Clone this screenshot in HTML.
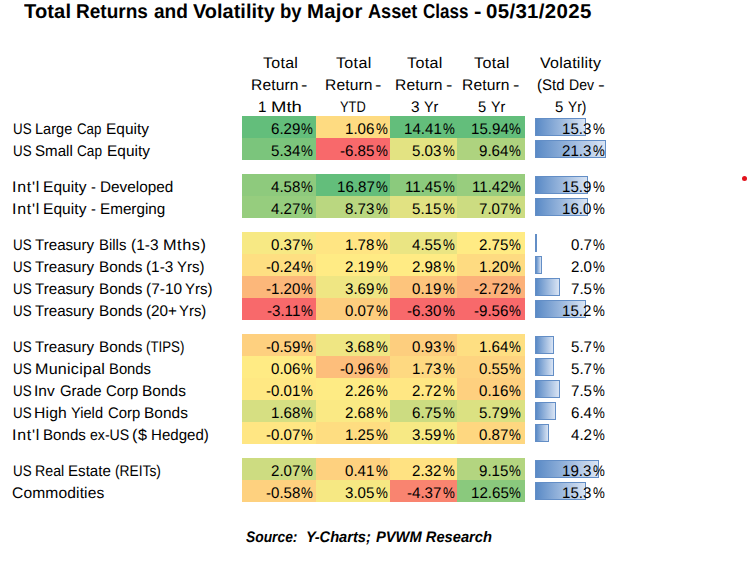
<!DOCTYPE html>
<html><head><meta charset="utf-8"><style>
html,body{margin:0;padding:0;background:#fff;width:747px;height:563px;overflow:hidden}
body{position:relative;font-family:"Liberation Sans",sans-serif;color:#000}
.t{position:absolute;white-space:pre;transform-origin:0 0;color:#000;text-rendering:geometricPrecision}
.c{position:absolute;height:22px}
.bar{position:absolute;height:18px;border:1px solid #638EC6;box-sizing:border-box;
background:linear-gradient(to right,#5A8AC6 0%,#D9E4F4 100%)}
.dot{position:absolute;left:741.5px;top:175.7px;width:5px;height:5px;border-radius:50%;background:#E2121C}
</style></head><body>
<div class="c" style="left:242px;top:116px;width:74px;background:#63BE7B"></div>
<div class="c" style="left:316px;top:116px;width:74px;background:#FEDB81"></div>
<div class="c" style="left:390px;top:116px;width:67px;background:#63BE7B"></div>
<div class="c" style="left:457px;top:116px;width:68px;background:#63BE7B"></div>
<div class="bar" style="left:535px;top:118px;width:51.00px"></div>
<div class="c" style="left:242px;top:138px;width:74px;background:#7BC57C"></div>
<div class="c" style="left:316px;top:138px;width:74px;background:#F8696B"></div>
<div class="c" style="left:390px;top:138px;width:67px;background:#E3E382"></div>
<div class="c" style="left:457px;top:138px;width:68px;background:#AED37F"></div>
<div class="bar" style="left:535px;top:140px;width:71.00px"></div>
<div class="c" style="left:242px;top:174px;width:74px;background:#8ECA7D"></div>
<div class="c" style="left:316px;top:174px;width:74px;background:#63BE7B"></div>
<div class="c" style="left:390px;top:174px;width:67px;background:#8BCA7D"></div>
<div class="c" style="left:457px;top:174px;width:68px;background:#98CD7E"></div>
<div class="bar" style="left:535px;top:176px;width:53.00px"></div>
<div class="c" style="left:242px;top:196px;width:74px;background:#96CD7E"></div>
<div class="c" style="left:316px;top:196px;width:74px;background:#BAD780"></div>
<div class="c" style="left:390px;top:196px;width:67px;background:#E1E282"></div>
<div class="c" style="left:457px;top:196px;width:68px;background:#CCDC81"></div>
<div class="bar" style="left:535px;top:198px;width:53.33px"></div>
<div class="c" style="left:242px;top:232px;width:74px;background:#F7E984"></div>
<div class="c" style="left:316px;top:232px;width:74px;background:#FFE583"></div>
<div class="c" style="left:390px;top:232px;width:67px;background:#EAE583"></div>
<div class="c" style="left:457px;top:232px;width:68px;background:#FFEB84"></div>
<div class="bar" style="left:535px;top:234px;width:2.33px"></div>
<div class="c" style="left:242px;top:254px;width:74px;background:#FEDF82"></div>
<div class="c" style="left:316px;top:254px;width:74px;background:#FFEB84"></div>
<div class="c" style="left:390px;top:254px;width:67px;background:#FFEB84"></div>
<div class="c" style="left:457px;top:254px;width:68px;background:#FEDB81"></div>
<div class="bar" style="left:535px;top:256px;width:6.67px"></div>
<div class="c" style="left:242px;top:276px;width:74px;background:#FCB77A"></div>
<div class="c" style="left:316px;top:276px;width:74px;background:#EFE683"></div>
<div class="c" style="left:390px;top:276px;width:67px;background:#FDC47C"></div>
<div class="c" style="left:457px;top:276px;width:68px;background:#FCB179"></div>
<div class="bar" style="left:535px;top:278px;width:25.00px"></div>
<div class="c" style="left:242px;top:298px;width:74px;background:#F8696B"></div>
<div class="c" style="left:316px;top:298px;width:74px;background:#FDCD7E"></div>
<div class="c" style="left:390px;top:298px;width:67px;background:#F8696B"></div>
<div class="c" style="left:457px;top:298px;width:68px;background:#F8696B"></div>
<div class="bar" style="left:535px;top:300px;width:50.67px"></div>
<div class="c" style="left:242px;top:334px;width:74px;background:#FED07F"></div>
<div class="c" style="left:316px;top:334px;width:74px;background:#EFE683"></div>
<div class="c" style="left:390px;top:334px;width:67px;background:#FDCE7E"></div>
<div class="c" style="left:457px;top:334px;width:68px;background:#FEDF82"></div>
<div class="bar" style="left:535px;top:336px;width:19.00px"></div>
<div class="c" style="left:242px;top:356px;width:74px;background:#FFEB84"></div>
<div class="c" style="left:316px;top:356px;width:74px;background:#FDBE7B"></div>
<div class="c" style="left:390px;top:356px;width:67px;background:#FED981"></div>
<div class="c" style="left:457px;top:356px;width:68px;background:#FED480"></div>
<div class="bar" style="left:535px;top:358px;width:19.00px"></div>
<div class="c" style="left:242px;top:378px;width:74px;background:#FFE883"></div>
<div class="c" style="left:316px;top:378px;width:74px;background:#FEEB84"></div>
<div class="c" style="left:390px;top:378px;width:67px;background:#FFE783"></div>
<div class="c" style="left:457px;top:378px;width:68px;background:#FED07F"></div>
<div class="bar" style="left:535px;top:380px;width:25.00px"></div>
<div class="c" style="left:242px;top:400px;width:74px;background:#D6DF82"></div>
<div class="c" style="left:316px;top:400px;width:74px;background:#FAE984"></div>
<div class="c" style="left:390px;top:400px;width:67px;background:#CCDC81"></div>
<div class="c" style="left:457px;top:400px;width:68px;background:#DBE182"></div>
<div class="bar" style="left:535px;top:402px;width:21.33px"></div>
<div class="c" style="left:242px;top:422px;width:74px;background:#FFE683"></div>
<div class="c" style="left:316px;top:422px;width:74px;background:#FEDD81"></div>
<div class="c" style="left:390px;top:422px;width:67px;background:#F7E984"></div>
<div class="c" style="left:457px;top:422px;width:68px;background:#FED780"></div>
<div class="bar" style="left:535px;top:424px;width:14.00px"></div>
<div class="c" style="left:242px;top:458px;width:74px;background:#CDDC81"></div>
<div class="c" style="left:316px;top:458px;width:74px;background:#FED17F"></div>
<div class="c" style="left:390px;top:458px;width:67px;background:#FFE282"></div>
<div class="c" style="left:457px;top:458px;width:68px;background:#B3D580"></div>
<div class="bar" style="left:535px;top:460px;width:64.33px"></div>
<div class="c" style="left:242px;top:480px;width:74px;background:#FED17F"></div>
<div class="c" style="left:316px;top:480px;width:74px;background:#F6E883"></div>
<div class="c" style="left:390px;top:480px;width:67px;background:#F98470"></div>
<div class="c" style="left:457px;top:480px;width:68px;background:#8AC97D"></div>
<div class="bar" style="left:535px;top:482px;width:51.00px"></div>
<div class="t" style="left:12.60px;top:122px;font-size:15.400px;line-height:15.400px;transform:scaleX(0.8675);">US</div>
<div class="t" style="left:34.63px;top:122px;font-size:15.400px;line-height:15.400px;transform:scaleX(0.9460);">Large</div>
<div class="t" style="left:76.84px;top:122px;font-size:15.400px;line-height:15.400px;transform:scaleX(0.8633);">Cap</div>
<div class="t" style="left:105.86px;top:122px;font-size:15.400px;line-height:15.400px;transform:scaleX(1.0026);letter-spacing:0.022px;">Equity</div>
<div class="t" style="left:301.43px;top:122px;font-size:15.400px;line-height:15.400px;transform:scaleX(0.8632);">%</div>
<div class="t" style="left:271.00px;top:122px;font-size:15.400px;line-height:15.400px;transform:scaleX(0.9810);">6.29</div>
<div class="t" style="left:375.53px;top:122px;font-size:15.400px;line-height:15.400px;transform:scaleX(0.8632);">%</div>
<div class="t" style="left:345.10px;top:122px;font-size:15.400px;line-height:15.400px;transform:scaleX(0.9810);">1.06</div>
<div class="t" style="left:442.53px;top:122px;font-size:15.400px;line-height:15.400px;transform:scaleX(0.8632);">%</div>
<div class="t" style="left:403.69px;top:122px;font-size:15.400px;line-height:15.400px;transform:scaleX(0.9810);">14.41</div>
<div class="t" style="left:509.43px;top:122px;font-size:15.400px;line-height:15.400px;transform:scaleX(0.8632);">%</div>
<div class="t" style="left:470.59px;top:122px;font-size:15.400px;line-height:15.400px;transform:scaleX(0.9810);">15.94</div>
<div class="t" style="left:592.53px;top:122px;font-size:15.400px;line-height:15.400px;transform:scaleX(0.8632);">%</div>
<div class="t" style="left:562.10px;top:122px;font-size:15.400px;line-height:15.400px;transform:scaleX(0.9810);">15.3</div>
<div class="t" style="left:12.60px;top:144px;font-size:15.400px;line-height:15.400px;transform:scaleX(0.8675);">US</div>
<div class="t" style="left:35.42px;top:144px;font-size:15.400px;line-height:15.400px;transform:scaleX(0.9808);">Small</div>
<div class="t" style="left:77.32px;top:144px;font-size:15.400px;line-height:15.400px;transform:scaleX(0.8856);">Cap</div>
<div class="t" style="left:106.97px;top:144px;font-size:15.400px;line-height:15.400px;transform:scaleX(1.0014);letter-spacing:0.012px;">Equity</div>
<div class="t" style="left:301.43px;top:144px;font-size:15.400px;line-height:15.400px;transform:scaleX(0.8632);">%</div>
<div class="t" style="left:271.00px;top:144px;font-size:15.400px;line-height:15.400px;transform:scaleX(0.9810);">5.34</div>
<div class="t" style="left:375.53px;top:144px;font-size:15.400px;line-height:15.400px;transform:scaleX(0.8632);">%</div>
<div class="t" style="left:340.06px;top:144px;font-size:15.400px;line-height:15.400px;transform:scaleX(0.9810);">-6.85</div>
<div class="t" style="left:442.53px;top:144px;font-size:15.400px;line-height:15.400px;transform:scaleX(0.8632);">%</div>
<div class="t" style="left:412.10px;top:144px;font-size:15.400px;line-height:15.400px;transform:scaleX(0.9810);">5.03</div>
<div class="t" style="left:509.43px;top:144px;font-size:15.400px;line-height:15.400px;transform:scaleX(0.8632);">%</div>
<div class="t" style="left:479.00px;top:144px;font-size:15.400px;line-height:15.400px;transform:scaleX(0.9810);">9.64</div>
<div class="t" style="left:592.53px;top:144px;font-size:15.400px;line-height:15.400px;transform:scaleX(0.8632);">%</div>
<div class="t" style="left:562.10px;top:144px;font-size:15.400px;line-height:15.400px;transform:scaleX(0.9810);">21.3</div>
<div class="t" style="left:12.07px;top:180px;font-size:15.400px;line-height:15.400px;transform:scaleX(1.0351);letter-spacing:0.740px;">Int'l</div>
<div class="t" style="left:42.86px;top:180px;font-size:15.400px;line-height:15.400px;transform:scaleX(1.0075);letter-spacing:0.062px;">Equity</div>
<div class="t" style="left:91.14px;top:180px;font-size:15.400px;line-height:15.400px;transform:scaleX(0.9541);">-</div>
<div class="t" style="left:99.77px;top:180px;font-size:15.400px;line-height:15.400px;transform:scaleX(0.9961);">Developed</div>
<div class="t" style="left:301.43px;top:180px;font-size:15.400px;line-height:15.400px;transform:scaleX(0.8632);">%</div>
<div class="t" style="left:271.00px;top:180px;font-size:15.400px;line-height:15.400px;transform:scaleX(0.9810);">4.58</div>
<div class="t" style="left:375.53px;top:180px;font-size:15.400px;line-height:15.400px;transform:scaleX(0.8632);">%</div>
<div class="t" style="left:336.69px;top:180px;font-size:15.400px;line-height:15.400px;transform:scaleX(0.9810);">16.87</div>
<div class="t" style="left:442.53px;top:180px;font-size:15.400px;line-height:15.400px;transform:scaleX(0.8632);">%</div>
<div class="t" style="left:404.81px;top:180px;font-size:15.400px;line-height:15.400px;transform:scaleX(0.9810);">11.45</div>
<div class="t" style="left:509.43px;top:180px;font-size:15.400px;line-height:15.400px;transform:scaleX(0.8632);">%</div>
<div class="t" style="left:471.71px;top:180px;font-size:15.400px;line-height:15.400px;transform:scaleX(0.9810);">11.42</div>
<div class="t" style="left:592.53px;top:180px;font-size:15.400px;line-height:15.400px;transform:scaleX(0.8632);">%</div>
<div class="t" style="left:562.10px;top:180px;font-size:15.400px;line-height:15.400px;transform:scaleX(0.9810);">15.9</div>
<div class="t" style="left:12.07px;top:202px;font-size:15.400px;line-height:15.400px;transform:scaleX(1.0351);letter-spacing:0.740px;">Int'l</div>
<div class="t" style="left:42.86px;top:202px;font-size:15.400px;line-height:15.400px;transform:scaleX(1.0075);letter-spacing:0.062px;">Equity</div>
<div class="t" style="left:91.14px;top:202px;font-size:15.400px;line-height:15.400px;transform:scaleX(0.9541);">-</div>
<div class="t" style="left:99.78px;top:202px;font-size:15.400px;line-height:15.400px;transform:scaleX(0.9909);">Emerging</div>
<div class="t" style="left:301.43px;top:202px;font-size:15.400px;line-height:15.400px;transform:scaleX(0.8632);">%</div>
<div class="t" style="left:271.00px;top:202px;font-size:15.400px;line-height:15.400px;transform:scaleX(0.9810);">4.27</div>
<div class="t" style="left:375.53px;top:202px;font-size:15.400px;line-height:15.400px;transform:scaleX(0.8632);">%</div>
<div class="t" style="left:345.10px;top:202px;font-size:15.400px;line-height:15.400px;transform:scaleX(0.9810);">8.73</div>
<div class="t" style="left:442.53px;top:202px;font-size:15.400px;line-height:15.400px;transform:scaleX(0.8632);">%</div>
<div class="t" style="left:412.10px;top:202px;font-size:15.400px;line-height:15.400px;transform:scaleX(0.9810);">5.15</div>
<div class="t" style="left:509.43px;top:202px;font-size:15.400px;line-height:15.400px;transform:scaleX(0.8632);">%</div>
<div class="t" style="left:479.00px;top:202px;font-size:15.400px;line-height:15.400px;transform:scaleX(0.9810);">7.07</div>
<div class="t" style="left:592.53px;top:202px;font-size:15.400px;line-height:15.400px;transform:scaleX(0.8632);">%</div>
<div class="t" style="left:562.10px;top:202px;font-size:15.400px;line-height:15.400px;transform:scaleX(0.9810);">16.0</div>
<div class="t" style="left:12.60px;top:238px;font-size:15.400px;line-height:15.400px;transform:scaleX(0.8675);">US</div>
<div class="t" style="left:34.70px;top:238px;font-size:15.400px;line-height:15.400px;transform:scaleX(0.9832);">Treasury</div>
<div class="t" style="left:98.90px;top:238px;font-size:15.400px;line-height:15.400px;transform:scaleX(0.9703);">Bills</div>
<div class="t" style="left:131.07px;top:238px;font-size:15.400px;line-height:15.400px;transform:scaleX(1.0040);letter-spacing:0.034px;">(1-3</div>
<div class="t" style="left:162.50px;top:238px;font-size:15.400px;line-height:15.400px;transform:scaleX(1.0570);letter-spacing:0.517px;">Mths)</div>
<div class="t" style="left:301.43px;top:238px;font-size:15.400px;line-height:15.400px;transform:scaleX(0.8632);">%</div>
<div class="t" style="left:271.00px;top:238px;font-size:15.400px;line-height:15.400px;transform:scaleX(0.9810);">0.37</div>
<div class="t" style="left:375.53px;top:238px;font-size:15.400px;line-height:15.400px;transform:scaleX(0.8632);">%</div>
<div class="t" style="left:345.10px;top:238px;font-size:15.400px;line-height:15.400px;transform:scaleX(0.9810);">1.78</div>
<div class="t" style="left:442.53px;top:238px;font-size:15.400px;line-height:15.400px;transform:scaleX(0.8632);">%</div>
<div class="t" style="left:412.10px;top:238px;font-size:15.400px;line-height:15.400px;transform:scaleX(0.9810);">4.55</div>
<div class="t" style="left:509.43px;top:238px;font-size:15.400px;line-height:15.400px;transform:scaleX(0.8632);">%</div>
<div class="t" style="left:479.00px;top:238px;font-size:15.400px;line-height:15.400px;transform:scaleX(0.9810);">2.75</div>
<div class="t" style="left:592.53px;top:238px;font-size:15.400px;line-height:15.400px;transform:scaleX(0.8632);">%</div>
<div class="t" style="left:570.50px;top:238px;font-size:15.400px;line-height:15.400px;transform:scaleX(0.9810);">0.7</div>
<div class="t" style="left:12.60px;top:260px;font-size:15.400px;line-height:15.400px;transform:scaleX(0.8675);">US</div>
<div class="t" style="left:34.70px;top:260px;font-size:15.400px;line-height:15.400px;transform:scaleX(0.9832);">Treasury</div>
<div class="t" style="left:98.78px;top:260px;font-size:15.400px;line-height:15.400px;transform:scaleX(0.9931);">Bonds</div>
<div class="t" style="left:145.78px;top:260px;font-size:15.400px;line-height:15.400px;transform:scaleX(0.9963);">(1-3</div>
<div class="t" style="left:176.53px;top:260px;font-size:15.400px;line-height:15.400px;transform:scaleX(0.9712);">Yrs)</div>
<div class="t" style="left:301.43px;top:260px;font-size:15.400px;line-height:15.400px;transform:scaleX(0.8632);">%</div>
<div class="t" style="left:265.96px;top:260px;font-size:15.400px;line-height:15.400px;transform:scaleX(0.9810);">-0.24</div>
<div class="t" style="left:375.53px;top:260px;font-size:15.400px;line-height:15.400px;transform:scaleX(0.8632);">%</div>
<div class="t" style="left:345.10px;top:260px;font-size:15.400px;line-height:15.400px;transform:scaleX(0.9810);">2.19</div>
<div class="t" style="left:442.53px;top:260px;font-size:15.400px;line-height:15.400px;transform:scaleX(0.8632);">%</div>
<div class="t" style="left:412.10px;top:260px;font-size:15.400px;line-height:15.400px;transform:scaleX(0.9810);">2.98</div>
<div class="t" style="left:509.43px;top:260px;font-size:15.400px;line-height:15.400px;transform:scaleX(0.8632);">%</div>
<div class="t" style="left:479.00px;top:260px;font-size:15.400px;line-height:15.400px;transform:scaleX(0.9810);">1.20</div>
<div class="t" style="left:592.53px;top:260px;font-size:15.400px;line-height:15.400px;transform:scaleX(0.8632);">%</div>
<div class="t" style="left:570.50px;top:260px;font-size:15.400px;line-height:15.400px;transform:scaleX(0.9810);">2.0</div>
<div class="t" style="left:12.60px;top:282px;font-size:15.400px;line-height:15.400px;transform:scaleX(0.8675);">US</div>
<div class="t" style="left:34.70px;top:282px;font-size:15.400px;line-height:15.400px;transform:scaleX(0.9832);">Treasury</div>
<div class="t" style="left:98.78px;top:282px;font-size:15.400px;line-height:15.400px;transform:scaleX(0.9931);">Bonds</div>
<div class="t" style="left:145.77px;top:282px;font-size:15.400px;line-height:15.400px;transform:scaleX(1.0030);letter-spacing:0.026px;">(7-10</div>
<div class="t" style="left:185.42px;top:282px;font-size:15.400px;line-height:15.400px;transform:scaleX(0.9750);">Yrs)</div>
<div class="t" style="left:301.43px;top:282px;font-size:15.400px;line-height:15.400px;transform:scaleX(0.8632);">%</div>
<div class="t" style="left:265.96px;top:282px;font-size:15.400px;line-height:15.400px;transform:scaleX(0.9810);">-1.20</div>
<div class="t" style="left:375.53px;top:282px;font-size:15.400px;line-height:15.400px;transform:scaleX(0.8632);">%</div>
<div class="t" style="left:345.10px;top:282px;font-size:15.400px;line-height:15.400px;transform:scaleX(0.9810);">3.69</div>
<div class="t" style="left:442.53px;top:282px;font-size:15.400px;line-height:15.400px;transform:scaleX(0.8632);">%</div>
<div class="t" style="left:412.10px;top:282px;font-size:15.400px;line-height:15.400px;transform:scaleX(0.9810);">0.19</div>
<div class="t" style="left:509.43px;top:282px;font-size:15.400px;line-height:15.400px;transform:scaleX(0.8632);">%</div>
<div class="t" style="left:473.96px;top:282px;font-size:15.400px;line-height:15.400px;transform:scaleX(0.9810);">-2.72</div>
<div class="t" style="left:592.53px;top:282px;font-size:15.400px;line-height:15.400px;transform:scaleX(0.8632);">%</div>
<div class="t" style="left:570.50px;top:282px;font-size:15.400px;line-height:15.400px;transform:scaleX(0.9810);">7.5</div>
<div class="t" style="left:12.60px;top:304px;font-size:15.400px;line-height:15.400px;transform:scaleX(0.8675);">US</div>
<div class="t" style="left:34.70px;top:304px;font-size:15.400px;line-height:15.400px;transform:scaleX(0.9832);">Treasury</div>
<div class="t" style="left:98.78px;top:304px;font-size:15.400px;line-height:15.400px;transform:scaleX(0.9931);">Bonds</div>
<div class="t" style="left:145.78px;top:304px;font-size:15.400px;line-height:15.400px;transform:scaleX(0.9943);">(20+</div>
<div class="t" style="left:179.43px;top:304px;font-size:15.400px;line-height:15.400px;transform:scaleX(0.9675);">Yrs)</div>
<div class="t" style="left:301.43px;top:304px;font-size:15.400px;line-height:15.400px;transform:scaleX(0.8632);">%</div>
<div class="t" style="left:267.09px;top:304px;font-size:15.400px;line-height:15.400px;transform:scaleX(0.9810);">-3.11</div>
<div class="t" style="left:375.53px;top:304px;font-size:15.400px;line-height:15.400px;transform:scaleX(0.8632);">%</div>
<div class="t" style="left:345.10px;top:304px;font-size:15.400px;line-height:15.400px;transform:scaleX(0.9810);">0.07</div>
<div class="t" style="left:442.53px;top:304px;font-size:15.400px;line-height:15.400px;transform:scaleX(0.8632);">%</div>
<div class="t" style="left:407.06px;top:304px;font-size:15.400px;line-height:15.400px;transform:scaleX(0.9810);">-6.30</div>
<div class="t" style="left:509.43px;top:304px;font-size:15.400px;line-height:15.400px;transform:scaleX(0.8632);">%</div>
<div class="t" style="left:473.96px;top:304px;font-size:15.400px;line-height:15.400px;transform:scaleX(0.9810);">-9.56</div>
<div class="t" style="left:592.53px;top:304px;font-size:15.400px;line-height:15.400px;transform:scaleX(0.8632);">%</div>
<div class="t" style="left:562.10px;top:304px;font-size:15.400px;line-height:15.400px;transform:scaleX(0.9810);">15.2</div>
<div class="t" style="left:12.60px;top:340px;font-size:15.400px;line-height:15.400px;transform:scaleX(0.8675);">US</div>
<div class="t" style="left:34.70px;top:340px;font-size:15.400px;line-height:15.400px;transform:scaleX(0.9832);">Treasury</div>
<div class="t" style="left:98.78px;top:340px;font-size:15.400px;line-height:15.400px;transform:scaleX(0.9931);">Bonds</div>
<div class="t" style="left:146.10px;top:340px;font-size:15.400px;line-height:15.400px;transform:scaleX(0.8642);">(TIPS)</div>
<div class="t" style="left:301.43px;top:340px;font-size:15.400px;line-height:15.400px;transform:scaleX(0.8632);">%</div>
<div class="t" style="left:265.96px;top:340px;font-size:15.400px;line-height:15.400px;transform:scaleX(0.9810);">-0.59</div>
<div class="t" style="left:375.53px;top:340px;font-size:15.400px;line-height:15.400px;transform:scaleX(0.8632);">%</div>
<div class="t" style="left:345.10px;top:340px;font-size:15.400px;line-height:15.400px;transform:scaleX(0.9810);">3.68</div>
<div class="t" style="left:442.53px;top:340px;font-size:15.400px;line-height:15.400px;transform:scaleX(0.8632);">%</div>
<div class="t" style="left:412.10px;top:340px;font-size:15.400px;line-height:15.400px;transform:scaleX(0.9810);">0.93</div>
<div class="t" style="left:509.43px;top:340px;font-size:15.400px;line-height:15.400px;transform:scaleX(0.8632);">%</div>
<div class="t" style="left:479.00px;top:340px;font-size:15.400px;line-height:15.400px;transform:scaleX(0.9810);">1.64</div>
<div class="t" style="left:592.53px;top:340px;font-size:15.400px;line-height:15.400px;transform:scaleX(0.8632);">%</div>
<div class="t" style="left:570.50px;top:340px;font-size:15.400px;line-height:15.400px;transform:scaleX(0.9810);">5.7</div>
<div class="t" style="left:12.60px;top:362px;font-size:15.400px;line-height:15.400px;transform:scaleX(0.8675);">US</div>
<div class="t" style="left:34.81px;top:362px;font-size:15.400px;line-height:15.400px;transform:scaleX(1.0454);letter-spacing:0.237px;">Municipal</div>
<div class="t" style="left:108.71px;top:362px;font-size:15.400px;line-height:15.400px;transform:scaleX(0.9621);">Bonds</div>
<div class="t" style="left:301.43px;top:362px;font-size:15.400px;line-height:15.400px;transform:scaleX(0.8632);">%</div>
<div class="t" style="left:271.00px;top:362px;font-size:15.400px;line-height:15.400px;transform:scaleX(0.9810);">0.06</div>
<div class="t" style="left:375.53px;top:362px;font-size:15.400px;line-height:15.400px;transform:scaleX(0.8632);">%</div>
<div class="t" style="left:340.06px;top:362px;font-size:15.400px;line-height:15.400px;transform:scaleX(0.9810);">-0.96</div>
<div class="t" style="left:442.53px;top:362px;font-size:15.400px;line-height:15.400px;transform:scaleX(0.8632);">%</div>
<div class="t" style="left:412.10px;top:362px;font-size:15.400px;line-height:15.400px;transform:scaleX(0.9810);">1.73</div>
<div class="t" style="left:509.43px;top:362px;font-size:15.400px;line-height:15.400px;transform:scaleX(0.8632);">%</div>
<div class="t" style="left:479.00px;top:362px;font-size:15.400px;line-height:15.400px;transform:scaleX(0.9810);">0.55</div>
<div class="t" style="left:592.53px;top:362px;font-size:15.400px;line-height:15.400px;transform:scaleX(0.8632);">%</div>
<div class="t" style="left:570.50px;top:362px;font-size:15.400px;line-height:15.400px;transform:scaleX(0.9810);">5.7</div>
<div class="t" style="left:12.60px;top:384px;font-size:15.400px;line-height:15.400px;transform:scaleX(0.8675);">US</div>
<div class="t" style="left:34.21px;top:384px;font-size:15.400px;line-height:15.400px;transform:scaleX(1.0053);letter-spacing:0.051px;">Inv</div>
<div class="t" style="left:60.05px;top:384px;font-size:15.400px;line-height:15.400px;transform:scaleX(0.9698);">Grade</div>
<div class="t" style="left:105.75px;top:384px;font-size:15.400px;line-height:15.400px;transform:scaleX(0.9701);">Corp</div>
<div class="t" style="left:141.86px;top:384px;font-size:15.400px;line-height:15.400px;transform:scaleX(1.0025);letter-spacing:0.027px;">Bonds</div>
<div class="t" style="left:301.43px;top:384px;font-size:15.400px;line-height:15.400px;transform:scaleX(0.8632);">%</div>
<div class="t" style="left:265.96px;top:384px;font-size:15.400px;line-height:15.400px;transform:scaleX(0.9810);">-0.01</div>
<div class="t" style="left:375.53px;top:384px;font-size:15.400px;line-height:15.400px;transform:scaleX(0.8632);">%</div>
<div class="t" style="left:345.10px;top:384px;font-size:15.400px;line-height:15.400px;transform:scaleX(0.9810);">2.26</div>
<div class="t" style="left:442.53px;top:384px;font-size:15.400px;line-height:15.400px;transform:scaleX(0.8632);">%</div>
<div class="t" style="left:412.10px;top:384px;font-size:15.400px;line-height:15.400px;transform:scaleX(0.9810);">2.72</div>
<div class="t" style="left:509.43px;top:384px;font-size:15.400px;line-height:15.400px;transform:scaleX(0.8632);">%</div>
<div class="t" style="left:479.00px;top:384px;font-size:15.400px;line-height:15.400px;transform:scaleX(0.9810);">0.16</div>
<div class="t" style="left:592.53px;top:384px;font-size:15.400px;line-height:15.400px;transform:scaleX(0.8632);">%</div>
<div class="t" style="left:570.50px;top:384px;font-size:15.400px;line-height:15.400px;transform:scaleX(0.9810);">7.5</div>
<div class="t" style="left:12.60px;top:406px;font-size:15.400px;line-height:15.400px;transform:scaleX(0.8675);">US</div>
<div class="t" style="left:34.35px;top:406px;font-size:15.400px;line-height:15.400px;transform:scaleX(1.0185);letter-spacing:0.181px;">High</div>
<div class="t" style="left:70.83px;top:406px;font-size:15.400px;line-height:15.400px;transform:scaleX(0.9516);">Yield</div>
<div class="t" style="left:107.66px;top:406px;font-size:15.400px;line-height:15.400px;transform:scaleX(0.9670);">Corp</div>
<div class="t" style="left:143.76px;top:406px;font-size:15.400px;line-height:15.400px;transform:scaleX(1.0025);letter-spacing:0.027px;">Bonds</div>
<div class="t" style="left:301.43px;top:406px;font-size:15.400px;line-height:15.400px;transform:scaleX(0.8632);">%</div>
<div class="t" style="left:271.00px;top:406px;font-size:15.400px;line-height:15.400px;transform:scaleX(0.9810);">1.68</div>
<div class="t" style="left:375.53px;top:406px;font-size:15.400px;line-height:15.400px;transform:scaleX(0.8632);">%</div>
<div class="t" style="left:345.10px;top:406px;font-size:15.400px;line-height:15.400px;transform:scaleX(0.9810);">2.68</div>
<div class="t" style="left:442.53px;top:406px;font-size:15.400px;line-height:15.400px;transform:scaleX(0.8632);">%</div>
<div class="t" style="left:412.10px;top:406px;font-size:15.400px;line-height:15.400px;transform:scaleX(0.9810);">6.75</div>
<div class="t" style="left:509.43px;top:406px;font-size:15.400px;line-height:15.400px;transform:scaleX(0.8632);">%</div>
<div class="t" style="left:479.00px;top:406px;font-size:15.400px;line-height:15.400px;transform:scaleX(0.9810);">5.79</div>
<div class="t" style="left:592.53px;top:406px;font-size:15.400px;line-height:15.400px;transform:scaleX(0.8632);">%</div>
<div class="t" style="left:570.50px;top:406px;font-size:15.400px;line-height:15.400px;transform:scaleX(0.9810);">6.4</div>
<div class="t" style="left:12.07px;top:428px;font-size:15.400px;line-height:15.400px;transform:scaleX(1.0351);letter-spacing:0.740px;">Int'l</div>
<div class="t" style="left:42.89px;top:428px;font-size:15.400px;line-height:15.400px;transform:scaleX(0.9836);">Bonds</div>
<div class="t" style="left:89.63px;top:428px;font-size:15.400px;line-height:15.400px;transform:scaleX(0.9173);">ex-US</div>
<div class="t" style="left:131.93px;top:428px;font-size:15.400px;line-height:15.400px;transform:scaleX(1.0537);letter-spacing:0.675px;">($</div>
<div class="t" style="left:150.79px;top:428px;font-size:15.400px;line-height:15.400px;transform:scaleX(0.9789);">Hedged)</div>
<div class="t" style="left:301.43px;top:428px;font-size:15.400px;line-height:15.400px;transform:scaleX(0.8632);">%</div>
<div class="t" style="left:265.96px;top:428px;font-size:15.400px;line-height:15.400px;transform:scaleX(0.9810);">-0.07</div>
<div class="t" style="left:375.53px;top:428px;font-size:15.400px;line-height:15.400px;transform:scaleX(0.8632);">%</div>
<div class="t" style="left:345.10px;top:428px;font-size:15.400px;line-height:15.400px;transform:scaleX(0.9810);">1.25</div>
<div class="t" style="left:442.53px;top:428px;font-size:15.400px;line-height:15.400px;transform:scaleX(0.8632);">%</div>
<div class="t" style="left:412.10px;top:428px;font-size:15.400px;line-height:15.400px;transform:scaleX(0.9810);">3.59</div>
<div class="t" style="left:509.43px;top:428px;font-size:15.400px;line-height:15.400px;transform:scaleX(0.8632);">%</div>
<div class="t" style="left:479.00px;top:428px;font-size:15.400px;line-height:15.400px;transform:scaleX(0.9810);">0.87</div>
<div class="t" style="left:592.53px;top:428px;font-size:15.400px;line-height:15.400px;transform:scaleX(0.8632);">%</div>
<div class="t" style="left:570.50px;top:428px;font-size:15.400px;line-height:15.400px;transform:scaleX(0.9810);">4.2</div>
<div class="t" style="left:12.60px;top:464px;font-size:15.400px;line-height:15.400px;transform:scaleX(0.8675);">US</div>
<div class="t" style="left:34.86px;top:464px;font-size:15.400px;line-height:15.400px;transform:scaleX(0.9213);">Real</div>
<div class="t" style="left:67.79px;top:464px;font-size:15.400px;line-height:15.400px;transform:scaleX(0.9824);">Estate</div>
<div class="t" style="left:115.07px;top:464px;font-size:15.400px;line-height:15.400px;transform:scaleX(0.8961);">(REITs)</div>
<div class="t" style="left:301.43px;top:464px;font-size:15.400px;line-height:15.400px;transform:scaleX(0.8632);">%</div>
<div class="t" style="left:271.00px;top:464px;font-size:15.400px;line-height:15.400px;transform:scaleX(0.9810);">2.07</div>
<div class="t" style="left:375.53px;top:464px;font-size:15.400px;line-height:15.400px;transform:scaleX(0.8632);">%</div>
<div class="t" style="left:345.10px;top:464px;font-size:15.400px;line-height:15.400px;transform:scaleX(0.9810);">0.41</div>
<div class="t" style="left:442.53px;top:464px;font-size:15.400px;line-height:15.400px;transform:scaleX(0.8632);">%</div>
<div class="t" style="left:412.10px;top:464px;font-size:15.400px;line-height:15.400px;transform:scaleX(0.9810);">2.32</div>
<div class="t" style="left:509.43px;top:464px;font-size:15.400px;line-height:15.400px;transform:scaleX(0.8632);">%</div>
<div class="t" style="left:479.00px;top:464px;font-size:15.400px;line-height:15.400px;transform:scaleX(0.9810);">9.15</div>
<div class="t" style="left:592.53px;top:464px;font-size:15.400px;line-height:15.400px;transform:scaleX(0.8632);">%</div>
<div class="t" style="left:562.10px;top:464px;font-size:15.400px;line-height:15.400px;transform:scaleX(0.9810);">19.3</div>
<div class="t" style="left:12.12px;top:486px;font-size:15.400px;line-height:15.400px;transform:scaleX(1.0138);letter-spacing:0.122px;">Commodities</div>
<div class="t" style="left:301.43px;top:486px;font-size:15.400px;line-height:15.400px;transform:scaleX(0.8632);">%</div>
<div class="t" style="left:265.96px;top:486px;font-size:15.400px;line-height:15.400px;transform:scaleX(0.9810);">-0.58</div>
<div class="t" style="left:375.53px;top:486px;font-size:15.400px;line-height:15.400px;transform:scaleX(0.8632);">%</div>
<div class="t" style="left:345.10px;top:486px;font-size:15.400px;line-height:15.400px;transform:scaleX(0.9810);">3.05</div>
<div class="t" style="left:442.53px;top:486px;font-size:15.400px;line-height:15.400px;transform:scaleX(0.8632);">%</div>
<div class="t" style="left:407.06px;top:486px;font-size:15.400px;line-height:15.400px;transform:scaleX(0.9810);">-4.37</div>
<div class="t" style="left:509.43px;top:486px;font-size:15.400px;line-height:15.400px;transform:scaleX(0.8632);">%</div>
<div class="t" style="left:470.59px;top:486px;font-size:15.400px;line-height:15.400px;transform:scaleX(0.9810);">12.65</div>
<div class="t" style="left:592.53px;top:486px;font-size:15.400px;line-height:15.400px;transform:scaleX(0.8632);">%</div>
<div class="t" style="left:562.10px;top:486px;font-size:15.400px;line-height:15.400px;transform:scaleX(0.9810);">15.3</div>
<div class="t" style="left:262.58px;top:56px;font-size:15.400px;line-height:15.400px;transform:scaleX(1.0371);letter-spacing:0.289px;">Total</div>
<div class="t" style="left:250.85px;top:78px;font-size:15.400px;line-height:15.400px;transform:scaleX(1.0140);letter-spacing:0.123px;">Return</div>
<div class="t" style="left:301.34px;top:78px;font-size:15.400px;line-height:15.400px;transform:scaleX(1.2457);">-</div>
<div class="t" style="left:258.26px;top:100px;font-size:15.400px;line-height:15.400px;transform:scaleX(0.9852);">1</div>
<div class="t" style="left:270.62px;top:100px;font-size:15.400px;line-height:15.400px;transform:scaleX(1.2004);">Mth</div>
<div class="t" style="left:336.38px;top:56px;font-size:15.400px;line-height:15.400px;transform:scaleX(1.0419);letter-spacing:0.327px;">Total</div>
<div class="t" style="left:324.55px;top:78px;font-size:15.400px;line-height:15.400px;transform:scaleX(1.0140);letter-spacing:0.123px;">Return</div>
<div class="t" style="left:375.04px;top:78px;font-size:15.400px;line-height:15.400px;transform:scaleX(1.2457);">-</div>
<div class="t" style="left:340.28px;top:100px;font-size:15.400px;line-height:15.400px;transform:scaleX(0.8344);">YTD</div>
<div class="t" style="left:406.98px;top:56px;font-size:15.400px;line-height:15.400px;transform:scaleX(1.0435);letter-spacing:0.339px;">Total</div>
<div class="t" style="left:395.45px;top:78px;font-size:15.400px;line-height:15.400px;transform:scaleX(1.0140);letter-spacing:0.123px;">Return</div>
<div class="t" style="left:445.94px;top:78px;font-size:15.400px;line-height:15.400px;transform:scaleX(1.2457);">-</div>
<div class="t" style="left:411.29px;top:100px;font-size:15.400px;line-height:15.400px;transform:scaleX(0.9979);">3</div>
<div class="t" style="left:423.64px;top:100px;font-size:15.400px;line-height:15.400px;transform:scaleX(0.9315);">Yr</div>
<div class="t" style="left:473.98px;top:56px;font-size:15.400px;line-height:15.400px;transform:scaleX(1.0435);letter-spacing:0.339px;">Total</div>
<div class="t" style="left:462.45px;top:78px;font-size:15.400px;line-height:15.400px;transform:scaleX(1.0140);letter-spacing:0.123px;">Return</div>
<div class="t" style="left:512.94px;top:78px;font-size:15.400px;line-height:15.400px;transform:scaleX(1.2457);">-</div>
<div class="t" style="left:478.41px;top:100px;font-size:15.400px;line-height:15.400px;transform:scaleX(0.9569);">5</div>
<div class="t" style="left:490.64px;top:100px;font-size:15.400px;line-height:15.400px;transform:scaleX(0.9315);">Yr</div>
<div class="t" style="left:539.72px;top:56px;font-size:15.400px;line-height:15.400px;transform:scaleX(1.0395);letter-spacing:0.248px;">Volatility</div>
<div class="t" style="left:537.10px;top:78px;font-size:15.400px;line-height:15.400px;transform:scaleX(0.9759);">(Std</div>
<div class="t" style="left:569.08px;top:78px;font-size:15.400px;line-height:15.400px;transform:scaleX(0.9118);">Dev</div>
<div class="t" style="left:597.98px;top:78px;font-size:15.400px;line-height:15.400px;transform:scaleX(1.3252);">-</div>
<div class="t" style="left:555.40px;top:100px;font-size:15.400px;line-height:15.400px;transform:scaleX(0.9706);">5</div>
<div class="t" style="left:567.86px;top:100px;font-size:15.400px;line-height:15.400px;transform:scaleX(0.8919);">Yr)</div>
<div class="t" style="left:24.10px;top:3px;font-size:19.900px;line-height:19.900px;font-weight:bold;transform:scaleX(1.0104);letter-spacing:0.115px;">Total</div>
<div class="t" style="left:76.36px;top:3px;font-size:19.900px;line-height:19.900px;font-weight:bold;transform:scaleX(0.9557);">Returns</div>
<div class="t" style="left:153.83px;top:3px;font-size:19.900px;line-height:19.900px;font-weight:bold;transform:scaleX(0.9602);">and</div>
<div class="t" style="left:193.30px;top:3px;font-size:19.900px;line-height:19.900px;font-weight:bold;transform:scaleX(1.0019);letter-spacing:0.017px;">Volatility</div>
<div class="t" style="left:280.39px;top:3px;font-size:19.900px;line-height:19.900px;font-weight:bold;transform:scaleX(0.9316);">by</div>
<div class="t" style="left:307.08px;top:3px;font-size:19.900px;line-height:19.900px;font-weight:bold;transform:scaleX(1.0229);letter-spacing:0.295px;">Major</div>
<div class="t" style="left:367.95px;top:3px;font-size:19.900px;line-height:19.900px;font-weight:bold;transform:scaleX(0.9114);">Asset</div>
<div class="t" style="left:423.42px;top:3px;font-size:19.900px;line-height:19.900px;font-weight:bold;transform:scaleX(0.8553);">Class</div>
<div class="t" style="left:473.61px;top:3px;font-size:19.900px;line-height:19.900px;font-weight:bold;transform:scaleX(1.1233);">-</div>
<div class="t" style="left:486.08px;top:3px;font-size:19.900px;line-height:19.900px;font-weight:bold;transform:scaleX(1.0285);letter-spacing:0.311px;">05/31/2025</div>
<div class="t" style="left:245.89px;top:530px;font-size:15.300px;line-height:15.300px;font-weight:bold;font-style:italic;transform:scaleX(0.9031);">Source:</div>
<div class="t" style="left:305.75px;top:530px;font-size:15.300px;line-height:15.300px;font-weight:bold;font-style:italic;transform:scaleX(0.9583);">Y-Charts;</div>
<div class="t" style="left:375.61px;top:530px;font-size:15.300px;line-height:15.300px;font-weight:bold;font-style:italic;transform:scaleX(0.9608);">PVWM Research</div>
<div class="dot"></div>
</body></html>
